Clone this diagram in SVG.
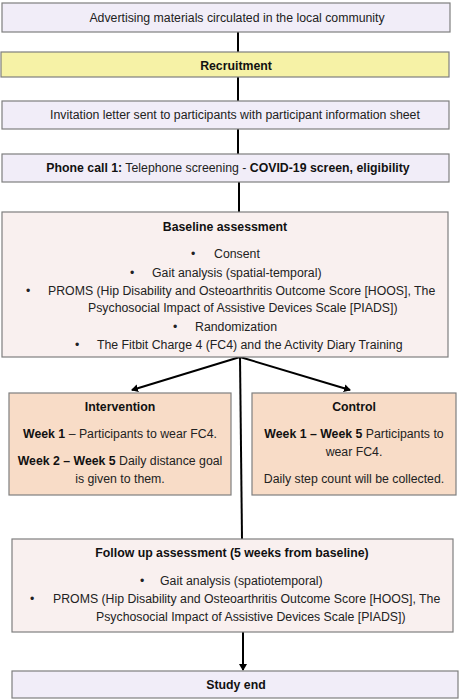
<svg xmlns="http://www.w3.org/2000/svg" width="461" height="700" viewBox="0 0 461 700">
<defs>
<marker id="ah" markerWidth="8" markerHeight="8" refX="6" refY="4" orient="auto" markerUnits="userSpaceOnUse">
<path d="M0,0 L7,4 L0,8 Z" fill="#000"/>
</marker>
<style>
.box{stroke:#7f7f7f;stroke-width:1.2}
.lav{fill:#f1edf8}
.yel{fill:#f6f2a6}
.pink{fill:#f9f0ef}
.peach{fill:#f8dcc7}
text{font-family:"Liberation Sans",Arial,sans-serif;font-size:12.3px;fill:#222;text-anchor:middle}
.b{font-weight:bold;fill:#111}
.s{text-anchor:start}
.conn{stroke:#000;stroke-width:2;fill:none}
</style>
</defs>
<rect width="461" height="700" fill="#fff"/>
<g id="connectors">
<line class="conn" x1="238" y1="32" x2="238" y2="52"/>
<line class="conn" x1="238" y1="77" x2="238" y2="101"/>
<line class="conn" x1="238" y1="129" x2="238" y2="154"/>
<line class="conn" x1="239" y1="182" x2="239" y2="212"/>
<line class="conn" x1="240" y1="357" x2="242" y2="539"/>
<line class="conn" x1="240" y1="357" x2="132" y2="390" marker-end="url(#ah)"/>
<line class="conn" x1="240" y1="357" x2="350" y2="390" marker-end="url(#ah)"/>
<line class="conn" x1="243" y1="632" x2="243" y2="670" marker-end="url(#ah)"/>
</g>
<g id="advertising">
<rect class="box lav" x="2" y="3" width="448" height="29"/>
<text x="237" y="22">Advertising materials circulated in the local community</text>
</g>
<g id="recruitment">
<rect class="box yel" x="1" y="52" width="448" height="25"/>
<text class="b" x="236" y="70">Recruitment</text>
</g>
<g id="invitation">
<rect class="box lav" x="2" y="101" width="447" height="28"/>
<text x="235" y="119">Invitation letter sent to participants with participant information sheet</text>
</g>
<g id="phone">
<rect class="box lav" x="2" y="154" width="447" height="28"/>
<text x="228" y="172"><tspan class="b">Phone call 1:</tspan> Telephone screening - <tspan class="b">COVID-19 screen, eligibility</tspan></text>
</g>
<g id="baseline">
<rect class="box pink" x="2" y="212" width="446" height="145"/>
<text class="b" x="225" y="231">Baseline assessment</text>
<text class="s" x="191" y="258">•</text><text class="s" x="214" y="258">Consent</text>
<text class="s" x="130" y="277">•</text><text class="s" x="152" y="277">Gait analysis (spatial-temporal)</text>
<text class="s" x="26" y="295">•</text><text class="s" x="48" y="295">PROMS (Hip Disability and Osteoarthritis Outcome Score [HOOS], The</text>
<text class="s" x="88" y="312">Psychosocial Impact of Assistive Devices Scale [PIADS])</text>
<text class="s" x="173" y="331">•</text><text class="s" x="195" y="331">Randomization</text>
<text class="s" x="75" y="349">•</text><text class="s" x="97" y="349">The Fitbit Charge 4 (FC4) and the Activity Diary Training</text>
</g>
<g id="intervention">
<rect class="box peach" x="9" y="393" width="222" height="102"/>
<text class="b" x="120" y="411">Intervention</text>
<text x="120" y="438"><tspan class="b">Week 1</tspan> – Participants to wear FC4.</text>
<text x="120" y="465"><tspan class="b">Week 2 – Week 5</tspan> Daily distance goal</text>
<text x="120" y="483">is given to them.</text>
</g>
<g id="control">
<rect class="box peach" x="252" y="393" width="204" height="102"/>
<text class="b" x="354" y="411">Control</text>
<text x="354" y="438"><tspan class="b">Week 1 – Week 5</tspan> Participants to</text>
<text x="354" y="456">wear FC4.</text>
<text x="354" y="483">Daily step count will be collected.</text>
</g>
<g id="followup">
<rect class="box pink" x="12" y="539" width="441" height="93"/>
<text class="b" x="232" y="557">Follow up assessment (5 weeks from baseline)</text>
<text class="s" x="140" y="585">•</text><text class="s" x="160" y="585">Gait analysis (spatiotemporal)</text>
<text class="s" x="30" y="603">•</text><text class="s" x="53" y="603">PROMS (Hip Disability and Osteoarthritis Outcome Score [HOOS], The</text>
<text class="s" x="96" y="621">Psychosocial Impact of Assistive Devices Scale [PIADS])</text>
</g>
<g id="studyend">
<rect class="box lav" x="12" y="671" width="446" height="27"/>
<text class="b" x="236" y="689">Study end</text>
</g>
</svg>
